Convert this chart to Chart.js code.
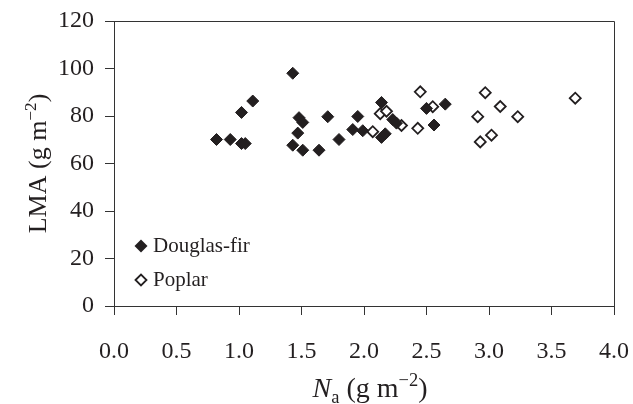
<!DOCTYPE html>
<html>
<head>
<meta charset="utf-8">
<script src="https://cdn.jsdelivr.net/npm/chart.js@4"></script>
<style>
  html, body { margin: 0; padding: 0; background: #fff; }
  #wrap { width: 633px; height: 404px; }
</style>
</head>
<body>
<div id="wrap"><canvas id="chart"></canvas></div>
<script>
// Douglas-fir (filled diamonds)
const firNa  = [0.82, 0.93, 1.02, 1.05, 1.02, 1.11, 1.43, 1.43, 1.47, 1.48, 1.51, 1.51, 1.64, 1.71, 1.80, 1.91, 1.95, 1.99, 2.14, 2.14, 2.17, 2.23, 2.26, 2.50, 2.56, 2.65];
const firLMA = [70.1, 70.1, 68.4, 68.4, 81.5, 86.3, 98.0, 67.7, 72.8, 79.3, 77.3, 65.6, 65.6, 79.7, 70.1, 74.3, 79.8, 73.8, 85.7, 71.0, 72.5, 78.5, 77.0, 83.2, 76.2, 85.0];

// Poplar (open diamonds)
const poplarNa  = [2.07, 2.13, 2.18, 2.30, 2.43, 2.45, 2.55, 2.91, 2.93, 2.97, 3.02, 3.09, 3.23, 3.69];
const poplarLMA = [73.4, 81.0, 82.0, 76.0, 74.8, 90.2, 83.9, 79.7, 69.1, 89.8, 71.9, 84.0, 79.7, 87.5];

const ink = '#231f20';
const serif = "'Liberation Serif', 'Times New Roman', serif";

function points(xs, ys) {
    const out = [];
    for (let i = 0; i < xs.length; i++) out.push({ x: xs[i], y: ys[i] });
    return out;
}

// draw a run of text pieces (italic / sub / sup) centred on x
function richText(ctx, parts, x, y, size) {
    let total = 0;
    for (const p of parts) {
        const s = (p.sub || p.sup) ? size * 0.66 : size;
        ctx.font = `${p.italic ? 'italic ' : ''}${s}px ${serif}`;
        p.w = ctx.measureText(p.t).width;
        total += p.w;
    }
    let cx = x - total / 2;
    for (const p of parts) {
        const s = (p.sub || p.sup) ? size * 0.66 : size;
        ctx.font = `${p.italic ? 'italic ' : ''}${s}px ${serif}`;
        let dy = 0;
        if (p.sup) dy = -size * 0.38;
        if (p.sub) dy = size * 0.2;
        ctx.fillText(p.t, cx, y + dy);
        cx += p.w;
    }
}

function diamond(ctx, x, y, r) {
    ctx.beginPath();
    ctx.moveTo(x - r, y);
    ctx.lineTo(x, y - r);
    ctx.lineTo(x + r, y);
    ctx.lineTo(x, y + r);
    ctx.closePath();
}

const decorations = {
    id: 'decorations',
    afterDraw(chart) {
        const { ctx, chartArea: a } = chart;
        ctx.save();

        // frame top and right
        ctx.strokeStyle = '#333';
        ctx.lineWidth = 1;
        ctx.beginPath();
        ctx.moveTo(Math.round(a.left) + 0.5, Math.round(a.top) + 0.5);
        ctx.lineTo(Math.round(a.right) + 0.5, Math.round(a.top) + 0.5);
        ctx.lineTo(Math.round(a.right) + 0.5, Math.round(a.bottom) + 9);
        ctx.stroke();

        // legend in the plot
        ctx.fillStyle = ink;
        ctx.textBaseline = 'middle';
        ctx.textAlign = 'left';
        ctx.font = `21px ${serif}`;
        const lx = a.left + 27;
        diamond(ctx, lx, a.bottom - 60, 6.5);
        ctx.fill();
        ctx.fillText('Douglas-fir', lx + 12, a.bottom - 60);
        diamond(ctx, lx, a.bottom - 26, 5.5);
        ctx.fillStyle = '#fff';
        ctx.fill();
        ctx.strokeStyle = ink;
        ctx.lineWidth = 1.8;
        ctx.stroke();
        ctx.fillStyle = ink;
        ctx.fillText('Poplar', lx + 12, a.bottom - 26);

        // axis titles
        ctx.textBaseline = 'alphabetic';
        richText(ctx, [
            { t: 'N', italic: true }, { t: 'a', sub: true },
            { t: ' (g m' }, { t: '\u22122', sup: true }, { t: ')' }
        ], (a.left + a.right) / 2 + 6, 397, 28);

        ctx.translate(46, (a.top + a.bottom) / 2);
        ctx.rotate(-Math.PI / 2);
        richText(ctx, [
            { t: 'LMA (g m' }, { t: '\u22122', sup: true }, { t: ')' }
        ], 0, 0, 26);

        ctx.restore();
    }
};

new Chart(document.getElementById('chart'), {
    type: 'scatter',
    data: {
        datasets: [
            {
                label: 'Douglas-fir',
                data: points(firNa, firLMA),
                pointStyle: 'rectRot',
                pointRadius: 6,
                pointHoverRadius: 6,
                backgroundColor: ink,
                borderColor: ink,
                borderWidth: 1
            },
            {
                label: 'Poplar',
                data: points(poplarNa, poplarLMA),
                pointStyle: 'rectRot',
                pointRadius: 5.5,
                pointHoverRadius: 5.5,
                backgroundColor: '#fff',
                borderColor: ink,
                borderWidth: 1.8
            }
        ]
    },
    options: {
        responsive: true,
        maintainAspectRatio: false,
        animation: false,
        layout: { padding: { top: 21, right: 19, left: 0, bottom: 0 } },
        plugins: {
            legend: { display: false },
            tooltip: { enabled: false }
        },
        scales: {
            x: {
                type: 'linear',
                min: 0,
                max: 4,
                afterFit: scale => {
                    scale.height = 98;
                    scale.paddingLeft = 0;
                    scale.paddingRight = 0;
                },
                ticks: {
                    stepSize: 0.5,
                    color: ink,
                    padding: 22,
                    maxRotation: 0,
                    font: { family: serif, size: 24 },
                    callback: v => v.toFixed(1)
                },
                grid: { drawOnChartArea: false, drawTicks: true, tickLength: 9, color: '#333' },
                border: { display: true, color: '#333', width: 1 }
            },
            y: {
                type: 'linear',
                min: 0,
                max: 120,
                afterFit: scale => {
                    scale.width = 114;
                    scale.paddingTop = 0;
                    scale.paddingBottom = 0;
                },
                ticks: {
                    stepSize: 20,
                    color: ink,
                    padding: 11,
                    font: { family: serif, size: 24 }
                },
                grid: { drawOnChartArea: false, drawTicks: true, tickLength: 9, color: '#333' },
                border: { display: true, color: '#333', width: 1 }
            }
        }
    },
    plugins: [decorations]
});
</script>
</body>
</html>
